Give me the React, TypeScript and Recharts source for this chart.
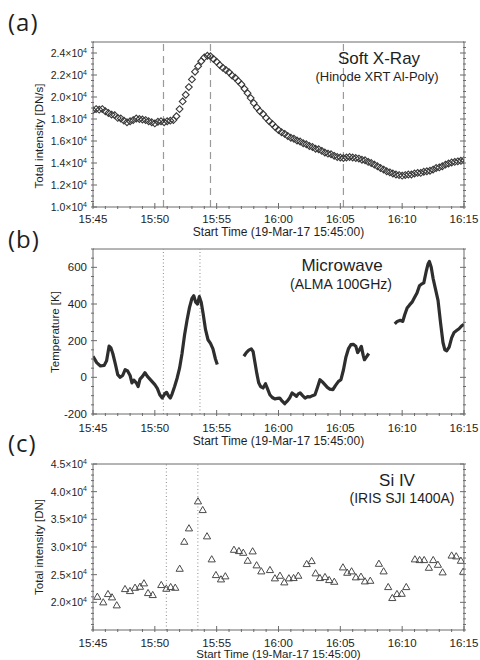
import React from 'react';
import {
  ComposedChart,
  Scatter,
  Line,
  XAxis,
  YAxis,
  ReferenceLine,
} from 'recharts';

const FONT = '"Liberation Sans", Arial, Helvetica, sans-serif';
const LABEL_FONT = '"Open Sans", "Noto Sans", sans-serif';
const AXIS = '#6b6b6b';
const INK = '#1e1e1e';

// shared time axis, minutes after 15:45:00
const timeTicks = [0, 5, 10, 15, 20, 25, 30];
const timeLabels = ['15:45', '15:50', '15:55', '16:00', '16:05', '16:10', '16:15'];

// (a) Hinode XRT Al-Poly, one reading every 15 s
const sxrStep = 0.25;
const sxrValues = [
  18800, 18900, 18850, 18900, 18700, 18550, 18400, 18350, 18100, 18050,
  17850, 17700, 17800, 17900, 18050, 18000, 17950, 17900, 17800, 17700,
  17600, 17750, 17800, 17700, 17800, 17850, 17900, 18250, 18900, 19600,
  20200, 20900, 21600, 22300, 22800, 23250, 23600, 23750, 23700, 23450,
  23200, 22900, 22650, 22450, 22250, 21950, 21750, 21450, 21150, 20750,
  20350, 19900, 19450, 19050, 18700, 18450, 18100, 17800, 17550, 17250,
  17000, 16800, 16650, 16450, 16300, 16200, 16050, 15950, 15800, 15700,
  15550, 15450, 15300, 15250, 15100, 14950, 14850, 14800, 14650, 14550,
  14500, 14450, 14500, 14550, 14500, 14450, 14400, 14300, 14250, 14100,
  14000, 13850, 13700, 13550, 13400, 13250, 13150, 13050, 12950, 12900,
  12850, 12900, 12950, 12950, 13050, 13100, 13100, 13200, 13250, 13300,
  13400, 13550, 13600, 13700, 13850, 13950, 14050, 14100, 14150, 14200,
  14250,
];
const sxrEvents = [5.7, 9.5, 20.25];
const sxrTicks = [10000, 12000, 14000, 16000, 18000, 20000, 22000, 24000];
const sxrTickLabels = ['1.0', '1.2', '1.4', '1.6', '1.8', '2.0', '2.2', '2.4'];

// (b) ALMA 100 GHz, three observing segments
const mwTimes1 = [
  0, 0.3, 0.6, 0.9, 1.1, 1.3, 1.45, 1.6, 1.8, 2.0, 2.2, 2.4, 2.6, 2.8, 3.0,
  3.15, 3.3, 3.5, 3.65, 3.8, 4.0, 4.2, 4.4, 4.6, 4.8, 5.0, 5.2, 5.4, 5.6, 5.8,
  5.95, 6.1, 6.25, 6.4, 6.6, 6.8, 7.0, 7.2, 7.4, 7.6, 7.8, 8.0, 8.15, 8.3,
  8.45, 8.6, 8.75, 8.9, 9.1, 9.3, 9.5, 9.7, 9.9, 10.05,
];
const mwValues1 = [
  115, 80, 62, 65, 90, 170, 160, 130, 75, 15, 0, 10, 42, 35, 10,
  -30, -15, -30, -50, -10, 5, 25, 5, -10, -25, -40, -60, -95, -113, -90,
  -82, -100, -113, -90, -50, -5, 50, 130, 230, 310, 380, 430, 445, 410,
  400, 440, 410, 350, 260, 205, 185, 155, 100, 70,
];
const mwTimes2 = [
  12.2, 12.4, 12.6, 12.8, 12.95, 13.1, 13.25, 13.4, 13.55, 13.75, 13.95, 14.1,
  14.3, 14.5, 14.7, 14.9, 15.1, 15.3, 15.5, 15.7, 15.9, 16.1, 16.3, 16.45,
  16.6, 16.75, 16.95, 17.15, 17.35, 17.55, 17.75, 17.95, 18.15, 18.35, 18.55,
  18.75, 18.95, 19.15, 19.4, 19.6, 19.85, 20.05, 20.25, 20.45, 20.65, 20.85,
  21.05, 21.25, 21.4, 21.55, 21.7, 21.85, 21.95, 22.1, 22.3,
];
const mwValues2 = [
  115, 135, 148, 155, 140, 80, 20, -30, -50, -58, -35, -60,
  -95, -110, -118, -115, -113, -130, -144, -130, -113, -85, -95, -104,
  -90, -85, -100, -113, -105, -107, -100, -95, -55, -13, -25,
  -40, -55, -64, -67, -45, -22, -13, 40, 110, 155, 178,
  180, 170, 135, 150, 169, 120, 96, 110, 130,
];
const mwTimes3 = [
  24.4, 24.6, 24.85, 25.05, 25.2, 25.4, 25.6, 25.8, 26.0, 26.2, 26.4, 26.6,
  26.75, 26.95, 27.1, 27.2, 27.35, 27.5, 27.7, 27.9, 28.1, 28.3, 28.45, 28.6,
  28.8, 29.0, 29.2, 29.4, 29.6, 29.8, 30.0,
];
const mwValues3 = [
  292, 305, 311, 305, 340, 378, 395, 410, 435, 460, 500, 510,
  515, 580, 620, 632, 600, 540, 480, 420, 300, 190, 150, 145,
  165, 215, 245, 255, 265, 280, 290,
];
const mwEvents = [5.69, 8.65];
const mwTicks = [-200, 0, 200, 400, 600];
const mwTickLabels = ['-200', '0', '200', '400', '600'];

// (c) IRIS SJI 1400 Si IV
const siTimes = [
  0.35, 0.83, 1.21, 1.54, 1.92, 2.59, 2.99, 3.4, 3.8, 4.12,
  4.45, 4.83, 5.52, 5.93, 6.28, 6.65, 7.01, 7.38, 7.76, 8.49,
  8.87, 9.22, 9.6, 9.94, 10.35, 10.7, 11.4, 11.8, 12.15, 12.51,
  12.91, 13.23, 13.61, 14.31, 14.71, 15.12, 15.47, 15.84, 16.22, 16.6,
  17.28, 17.68, 18.0, 18.35, 18.76, 19.1, 19.51, 20.21, 20.56, 20.91,
  21.26, 21.67, 21.99, 22.42, 23.12, 23.5, 23.87, 24.2, 24.58, 24.96,
  25.33, 26.03, 26.41, 26.78, 27.16, 27.51, 27.89, 28.27, 29.0, 29.37,
  29.75, 29.93,
];
const siValues = [
  21020, 20010, 21510, 20910, 19470, 22410, 22050, 22650, 22830, 23440,
  21690, 21330, 23140, 22470, 22770, 22650, 26080, 30960, 33380, 38260,
  36690, 31940, 27780, 24940, 24160, 24710, 29510, 29280, 28970, 27530,
  29220, 26700, 25610, 25850, 24350, 24820, 23620, 24350, 24400, 24820,
  26930, 27470, 25250, 24400, 24580, 24040, 23730, 26330, 25360, 25610,
  24530, 24640, 23800, 23910, 26980, 25610, 22770, 20790, 21510, 21560,
  22770, 27780, 27650, 27650, 26260, 27650, 26800, 25430, 28470, 28320,
  27530, 25540,
];
const siEvents = [5.93, 8.48];
const siTicks = [20000, 25000, 30000, 35000, 40000, 45000];
const siTickLabels = ['2.0', '2.5', '3.0', '3.5', '4.0', '4.5'];

const sxrData = sxrValues.map((v, i) => ({ t: i * sxrStep, v }));
const toRows = (ts: number[], vs: number[]) => ts.map((t, i) => ({ t, v: vs[i] }));
const mwSegments = [
  toRows(mwTimes1, mwValues1),
  toRows(mwTimes2, mwValues2),
  toRows(mwTimes3, mwValues3),
];
const siData = toRows(siTimes, siValues);

const range = (from: number, to: number, step: number) => {
  const out: number[] = [];
  for (let v = from; v <= to; v += step) out.push(v);
  return out;
};

const Diamond = ({ cx, cy }: any) => (
  <path
    d={`M${cx},${cy - 3.4}L${cx + 3.4},${cy}L${cx},${cy + 3.4}L${cx - 3.4},${cy}Z`}
    fill='none'
    stroke='#383838'
    strokeWidth={1.1}
  />
);

const Triangle = ({ cx, cy }: any) => (
  <path
    d={`M${cx},${cy - 3.6}L${cx + 3.6},${cy + 2.6}L${cx - 3.6},${cy + 2.6}Z`}
    fill='none'
    stroke='#4a4a4a'
    strokeWidth={1}
  />
);

type FrameProps = {
  yDomain: [number, number];
  yMinor: number;
  yTicks: number[];
  yLabels: string[];
  sci: boolean;
  xLabelDy: number;
};

// box with IDL-style inward ticks on all four sides; every axis is 1px thick
// because recharts skips drawing an axis whose box has zero size
function frame({ yDomain, yMinor, yTicks, yLabels, sci, xLabelDy }: FrameProps) {
  const xAll = range(0, 30, 1);
  const yAll = range(yDomain[0], yDomain[1], yMinor);
  const xLen = (v: number) => (timeTicks.includes(v) ? 6 : 3);
  const yLen = (v: number) => (yTicks.includes(v) ? 6 : 3);
  const common = { tickSize: 0, tickLine: false, interval: 0 as const, allowDataOverflow: true };

  return [
    <XAxis
      key='xb'
      xAxisId={0}
      dataKey='t'
      type='number'
      domain={[0, 30]}
      ticks={xAll}
      height={1}
      axisLine={{ stroke: AXIS }}
      {...common}
      tick={(p: any) => {
        const k = timeTicks.indexOf(p.payload.value);
        return (
          <g>
            <line x1={p.x} x2={p.x} y1={p.y} y2={p.y - xLen(p.payload.value)} stroke={AXIS} />
            {k >= 0 && (
              <text x={p.x} y={p.y + xLabelDy} textAnchor='middle' fontSize={11.5} fontFamily={FONT} fill={INK}>
                {timeLabels[k]}
              </text>
            )}
          </g>
        );
      }}
    />,
    <XAxis
      key='xt'
      xAxisId='top'
      orientation='top'
      type='number'
      domain={[0, 30]}
      ticks={xAll}
      height={1}
      axisLine={{ stroke: AXIS }}
      {...common}
      tick={(p: any) => (
        <line x1={p.x} x2={p.x} y1={p.y} y2={p.y + xLen(p.payload.value)} stroke={AXIS} />
      )}
    />,
    <YAxis
      key='yl'
      yAxisId={0}
      dataKey='v'
      type='number'
      domain={yDomain}
      ticks={yAll}
      width={1}
      axisLine={{ stroke: AXIS }}
      {...common}
      tick={(p: any) => {
        const k = yTicks.indexOf(p.payload.value);
        return (
          <g>
            <line x1={p.x} x2={p.x + yLen(p.payload.value)} y1={p.y} y2={p.y} stroke={AXIS} />
            {k >= 0 && (
              <text
                x={p.x - 4}
                y={p.y + 4}
                textAnchor='end'
                fontSize={sci ? 10.5 : 11.5}
                fontFamily={FONT}
                fill={INK}
              >
                {sci ? `${yLabels[k]}×10` : yLabels[k]}
                {sci && (
                  <tspan dy={-4.5} fontSize={7}>
                    4
                  </tspan>
                )}
              </text>
            )}
          </g>
        );
      }}
    />,
    <YAxis
      key='yr'
      yAxisId='right'
      orientation='right'
      type='number'
      domain={yDomain}
      ticks={yAll}
      width={1}
      axisLine={{ stroke: AXIS }}
      {...common}
      tick={(p: any) => (
        <line x1={p.x} x2={p.x - yLen(p.payload.value)} y1={p.y} y2={p.y} stroke={AXIS} />
      )}
    />,
  ];
}

const CHART_W = 480;
// plot box spans x 93..464; the 1px axes eat one pixel of each margin
const MARGIN_X = { left: 92, right: 15 };

export default function App() {
  return (
    <div
      style={{
        position: 'absolute',
        left: 0,
        top: 0,
        width: 480,
        height: 660,
        background: '#fff',
        fontFamily: FONT,
      }}
    >
      {/* (a) Soft X-ray, box y 42..207 */}
      <div style={{ position: 'absolute', left: 0, top: 0 }}>
        <ComposedChart width={CHART_W} height={240} margin={{ top: 41, bottom: 32, ...MARGIN_X }}>
          {frame({
            yDomain: [10000, 25000],
            yMinor: 500,
            yTicks: sxrTicks,
            yLabels: sxrTickLabels,
            sci: true,
            xLabelDy: 14,
          })}
          {sxrEvents.map(x => (
            <ReferenceLine key={x} x={x} stroke='#9a9a9a' strokeWidth={1.2} strokeDasharray='7 5' />
          ))}
          <Scatter data={sxrData} dataKey='v' shape={<Diamond />} isAnimationActive={false} />
        </ComposedChart>
      </div>

      {/* (b) Microwave, box y 249..414 */}
      <div style={{ position: 'absolute', left: 0, top: 240 }}>
        <ComposedChart width={CHART_W} height={200} margin={{ top: 8, bottom: 25, ...MARGIN_X }}>
          {frame({
            yDomain: [-200, 700],
            yMinor: 50,
            yTicks: mwTicks,
            yLabels: mwTickLabels,
            sci: false,
            xLabelDy: 16,
          })}
          {mwEvents.map(x => (
            <ReferenceLine key={x} x={x} stroke='#8a8a8a' strokeDasharray='1 2.5' />
          ))}
          {mwSegments.map((seg, i) => (
            <Line
              key={i}
              data={seg}
              dataKey='v'
              type='linear'
              stroke='#2e2e2e'
              strokeWidth={3.2}
              strokeLinejoin='round'
              dot={false}
              isAnimationActive={false}
            />
          ))}
        </ComposedChart>
      </div>

      {/* (c) Si IV, box y 464..630 */}
      <div style={{ position: 'absolute', left: 0, top: 450 }}>
        <ComposedChart width={CHART_W} height={210} margin={{ top: 13, bottom: 29, ...MARGIN_X }}>
          {frame({
            yDomain: [15000, 45000],
            yMinor: 1000,
            yTicks: siTicks,
            yLabels: siTickLabels,
            sci: true,
            xLabelDy: 14.5,
          })}
          {siEvents.map(x => (
            <ReferenceLine key={x} x={x} stroke='#8a8a8a' strokeDasharray='1 2.5' />
          ))}
          <Scatter data={siData} dataKey='v' shape={<Triangle />} isAnimationActive={false} />
        </ComposedChart>
      </div>

      {/* titles and annotations */}
      <svg
        width={480}
        height={660}
        style={{ position: 'absolute', left: 0, top: 0, pointerEvents: 'none' }}
        fontFamily={FONT}
        fill={INK}
      >
        <text x={8} y={31} fontFamily={LABEL_FONT} fontSize={24} letterSpacing={1}>(a)</text>
        <text x={8} y={248} fontFamily={LABEL_FONT} fontSize={24} letterSpacing={1}>(b)</text>
        <text x={8} y={452} fontFamily={LABEL_FONT} fontSize={24} letterSpacing={1}>(c)</text>

        <text x={379} y={64} textAnchor='middle' fontSize={17}>Soft X-Ray</text>
        <text x={377} y={81} textAnchor='middle' fontSize={13}>(Hinode XRT Al-Poly)</text>
        <text x={342} y={271} textAnchor='middle' fontSize={17}>Microwave</text>
        <text x={341} y={289} textAnchor='middle' fontSize={14}>(ALMA 100GHz)</text>
        <text x={397} y={486} textAnchor='middle' fontSize={17}>Si IV</text>
        <text x={402} y={503} textAnchor='middle' fontSize={14}>(IRIS SJI 1400A)</text>

        <text x={278.5} y={236} textAnchor='middle' fontSize={12}>Start Time (19-Mar-17 15:45:00)</text>
        <text x={278.5} y={445} textAnchor='middle' fontSize={12}>Start Time (19-Mar-17 15:45:00)</text>
        <text x={278.5} y={657.5} textAnchor='middle' fontSize={11.5}>Start Time (19-Mar-17 15:45:00)</text>

        <text transform='translate(43,136) rotate(-90)' textAnchor='middle' fontSize={11.5}>
          Total intensity [DN/s]
        </text>
        <text transform='translate(59,332) rotate(-90)' textAnchor='middle' fontSize={11.5}>
          Temperature [K]
        </text>
        <text transform='translate(43,547) rotate(-90)' textAnchor='middle' fontSize={11.5}>
          Total intensity [DN]
        </text>
      </svg>
    </div>
  );
}
